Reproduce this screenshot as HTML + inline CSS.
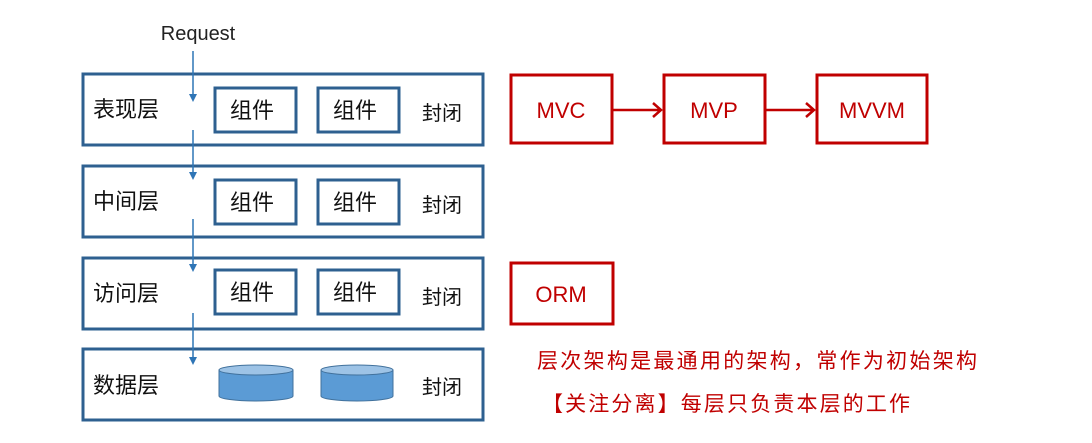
<!DOCTYPE html>
<html><head><meta charset="utf-8"><style>
body{margin:0;background:#fff;}
svg text{font-family:"Liberation Sans","Noto Sans CJK SC",sans-serif;}
</style></head><body>
<svg width="1092" height="438" viewBox="0 0 1092 438" xmlns="http://www.w3.org/2000/svg">
<defs>
<marker id="ab" markerWidth="8" markerHeight="8" refX="4" refY="4" orient="auto" markerUnits="userSpaceOnUse"><path d="M0,0 L8,4 L0,8 Z" fill="#2e75b6"/></marker>
</defs>
<text x="198" y="40" font-size="20" text-anchor="middle" fill="#222">Request</text>
<g stroke="#2e6090" stroke-width="3" fill="none">
<rect x="83" y="74" width="400" height="71"/>
<rect x="83" y="166" width="400" height="71"/>
<rect x="83" y="258" width="400" height="71"/>
<rect x="83" y="349" width="400" height="71"/>
<rect x="215" y="88" width="81" height="44"/><rect x="318" y="88" width="81" height="44"/>
<rect x="215" y="180" width="81" height="44"/><rect x="318" y="180" width="81" height="44"/>
<rect x="215" y="270" width="81" height="44"/><rect x="318" y="270" width="81" height="44"/>
</g>
<g stroke="#2e75b6" stroke-width="1.5" marker-end="url(#ab)">
<line x1="193" y1="51" x2="193" y2="98"/>
<line x1="193" y1="130" x2="193" y2="176"/>
<line x1="193" y1="219" x2="193" y2="268"/>
<line x1="193" y1="313" x2="193" y2="361"/>
</g>
<g font-size="22" fill="#111">
<text x="93" y="117">表现层</text><text x="93" y="209">中间层</text>
<text x="93" y="301">访问层</text><text x="93" y="393">数据层</text>
<text x="230" y="118">组件</text><text x="333" y="118">组件</text>
<text x="230" y="210">组件</text><text x="333" y="210">组件</text>
<text x="230" y="300">组件</text><text x="333" y="300">组件</text>
</g>
<g font-size="20" fill="#111">
<text x="422" y="120">封闭</text><text x="422" y="212">封闭</text>
<text x="422" y="304">封闭</text><text x="422" y="394">封闭</text>
</g>
<g stroke="#41719c" stroke-width="1" fill="#5b9bd5">
<path d="M219,370 v26 a37,5 0 0 0 74,0 v-26 Z"/><ellipse cx="256" cy="370" rx="37" ry="5" fill="#9dc3e6"/>
<path d="M321,370 v26 a36,5 0 0 0 72,0 v-26 Z"/><ellipse cx="357" cy="370" rx="36" ry="5" fill="#9dc3e6"/>
</g>
<g stroke="#c00000" stroke-width="3" fill="none">
<rect x="511" y="75" width="101" height="68"/>
<rect x="664" y="75" width="101" height="68"/>
<rect x="817" y="75" width="110" height="68"/>
<rect x="511" y="263" width="102" height="61"/>
<path d="M612,110 H661 M653,103 L661,110 L653,117 M765,110 H814 M806,103 L814,110 L806,117" stroke-width="2.5"/>
</g>
<g font-size="22" fill="#c00000" text-anchor="middle">
<text x="561" y="118">MVC</text><text x="714" y="118">MVP</text><text x="872" y="118">MVVM</text>
<text x="561" y="302">ORM</text>
</g>
<g font-size="21" fill="#c00000">
<text x="537" y="368" textLength="440" lengthAdjust="spacing">层次架构是最通用的架构，常作为初始架构</text>
<text x="542" y="411" textLength="368" lengthAdjust="spacing">【关注分离】每层只负责本层的工作</text>
</g>
</svg>
</body></html>
